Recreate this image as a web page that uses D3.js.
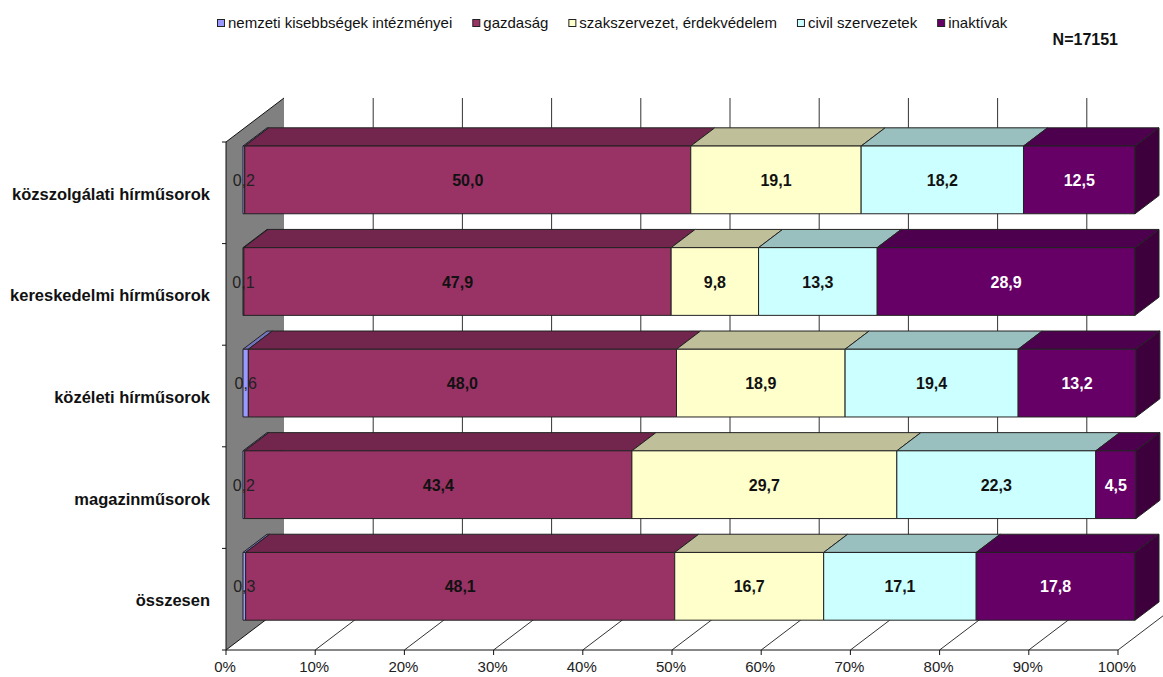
<!DOCTYPE html>
<html>
<head>
<meta charset="utf-8">
<script src="https://cdn.jsdelivr.net/npm/d3@7"></script>
<style>
body { margin: 0; background: #fff; }
svg { display: block; font-family: "Liberation Sans", Arial, sans-serif; }
</style>
</head>
<body>
<svg></svg>
<script>
const [WIDTH, HEIGHT] = [1163, 677]

// data
const categories = ['közszolgálati hírműsorok', 'kereskedelmi hírműsorok', 'közéleti hírműsorok', 'magazinműsorok', 'összesen']
const seriesNames = ['nemzeti kisebbségek intézményei', 'gazdaság', 'szakszervezet, érdekvédelem', 'civil szervezetek', 'inaktívak']
const nemzeti = [0.2, 0.1, 0.6, 0.2, 0.3]
const gazdasag = [50.0, 47.9, 48.0, 43.4, 48.1]
const szakszervezet = [19.1, 9.8, 18.9, 29.7, 16.7]
const civil = [18.2, 13.3, 19.4, 22.3, 17.1]
const inaktiv = [12.5, 28.9, 13.2, 4.5, 17.8]
const xTicks = [0, 10, 20, 30, 40, 50, 60, 70, 80, 90, 100]
const sampleSize = 'N=17151'

const series = [nemzeti, gazdasag, szakszervezet, civil, inaktiv]
const colors = ['#9999FF', '#993366', '#FFFFCC', '#CCFFFF', '#660066']
const labelColors = ['#222', '#111', '#111', '#111', '#fff']

// 3d look: depth vector of the whole plot and where the bars sit in it
const DEPTH = [58, -44]
const BAR_FRONT = 0.293
const BAR_BACK = 0.707

const state = {}

function shade(c, k) {
    const col = d3.rgb(c)
    return d3.rgb(col.r * k, col.g * k, col.b * k).formatHex()
}

function poly(pts) {
    return 'M' + pts.map(p => p[0] + ',' + p[1]).join('L') + 'Z'
}

function fmt(v) {
    return v.toFixed(1).replace('.', ',')
}

function setupSvg() {
    state.svg = d3.select('svg')
        .attr('viewBox', '0 0 ' + WIDTH + ' ' + HEIGHT)
        .attr('width', WIDTH)
        .attr('height', HEIGHT)
}

function drawLegend() {
    const g = state.svg.append('g').attr('class', 'legend')
    let xPos = 217
    seriesNames.forEach((name, i) => {
        g.append('rect')
            .attr('x', xPos + 0.5).attr('y', 19.5)
            .attr('width', 7).attr('height', 7)
            .attr('fill', colors[i])
            .attr('stroke', '#222')
        const t = g.append('text')
            .attr('x', xPos + 11).attr('y', 28)
            .attr('font-size', 15)
            .attr('fill', '#111')
            .text(name)
        xPos += 11 + t.node().getComputedTextLength() + 20
    })

    state.svg.append('text')
        .attr('x', 1118).attr('y', 45)
        .attr('text-anchor', 'end')
        .attr('font-size', 16)
        .attr('font-weight', 'bold')
        .attr('fill', '#111')
        .text(sampleSize)
}

function main() {
    setupSvg()

    const x = d3.scaleLinear().domain([0, 100]).range([226, 1118])
    const y = d3.scaleBand().domain(categories).range([142, 650])
        .paddingInner(1 / 3).paddingOuter(1 / 6)
    const [top, bottom] = y.range()
    const [dx, dy] = DEPTH
    const svg = state.svg

    // side wall
    const wall = [[x(0), top], [x(0) + dx, top + dy], [x(0) + dx, bottom + dy], [x(0), bottom]]
    svg.append('path').attr('d', poly(wall)).attr('fill', '#808080')
    svg.append('path')
        .attr('d', 'M' + wall[1] + 'L' + wall[0] + 'L' + wall[3] + 'L' + wall[2])
        .attr('fill', 'none').attr('stroke', '#111').attr('stroke-width', 1)

    // back gridlines and floor lines
    const grid = svg.append('g').attr('stroke', '#333').attr('stroke-width', 1)
    grid.selectAll('line.back')
        .data(xTicks.slice(1))
        .join('line').attr('class', 'back')
        .attr('x1', d => x(d) + dx).attr('x2', d => x(d) + dx)
        .attr('y1', top + dy).attr('y2', bottom + dy)
    grid.selectAll('line.floor')
        .data(xTicks.slice(1))
        .join('line').attr('class', 'floor')
        .attr('x1', d => x(d)).attr('y1', bottom)
        .attr('x2', d => x(d) + dx).attr('y2', bottom + dy)

    // front axis
    const axis = svg.append('g').attr('stroke', '#111')
    axis.append('line').attr('x1', x(0)).attr('x2', x(100)).attr('y1', bottom).attr('y2', bottom)
    axis.selectAll('line.tick')
        .data(xTicks)
        .join('line').attr('class', 'tick')
        .attr('x1', d => x(d)).attr('x2', d => x(d))
        .attr('y1', bottom).attr('y2', bottom + 5)
    const yTicks = d3.range(categories.length + 1).map(i => top + i * y.step())
    axis.selectAll('line.ytick')
        .data(yTicks)
        .join('line').attr('class', 'ytick')
        .attr('x1', x(0) - 4).attr('x2', x(0))
        .attr('y1', d => d).attr('y2', d => d)

    svg.append('g').selectAll('text')
        .data(xTicks)
        .join('text')
        .attr('x', d => x(d) - 1).attr('y', 672)
        .attr('text-anchor', 'middle')
        .attr('font-size', 15)
        .attr('fill', '#222')
        .text(d => d + '%')

    // category labels
    svg.append('g').selectAll('text')
        .data(categories)
        .join('text')
        .attr('x', 210)
        .attr('y', d => y(d) + y.bandwidth() / 2 + 7)
        .attr('text-anchor', 'end')
        .attr('font-size', 16.5)
        .attr('font-weight', 'bold')
        .attr('fill', '#111')
        .text(d => d)

    // bars
    const fx = dx * BAR_FRONT, fy = dy * BAR_FRONT
    const bx = dx * BAR_BACK, by = dy * BAR_BACK
    const bars = svg.append('g').attr('stroke', '#222').attr('stroke-width', 1).attr('stroke-linejoin', 'round')
    const labels = []
    categories.forEach((cat, ci) => {
        const yt = y(cat), yb = yt + y.bandwidth()
        let cum = 0
        series.forEach((vals, si) => {
            const v = vals[ci]
            const x0 = x(cum), x1 = x(cum + v)
            cum += v
            bars.append('path')
                .attr('d', poly([[x0 + fx, yt + fy], [x0 + bx, yt + by], [x1 + bx, yt + by], [x1 + fx, yt + fy]]))
                .attr('fill', shade(colors[si], 0.75))
            bars.append('path')
                .attr('d', poly([[x0 + fx, yt + fy], [x1 + fx, yt + fy], [x1 + fx, yb + fy], [x0 + fx, yb + fy]]))
                .attr('fill', colors[si])
            if (si === series.length - 1) {
                bars.append('path')
                    .attr('d', poly([[x1 + fx, yt + fy], [x1 + bx, yt + by], [x1 + bx, yb + by], [x1 + fx, yb + fy]]))
                    .attr('fill', shade(colors[si], 0.6))
            }
            labels.push({ x: (x0 + x1) / 2 + fx, y: (yt + yb) / 2 + fy, v, si })
        })
    })

    svg.append('g').selectAll('text')
        .data(labels)
        .join('text')
        .attr('x', d => d.x).attr('y', d => d.y + 6)
        .attr('text-anchor', 'middle')
        .attr('font-size', 16)
        .attr('font-weight', d => d.si === 0 ? 'normal' : 'bold')
        .attr('fill', d => labelColors[d.si])
        .text(d => fmt(d.v))

    drawLegend()
}

main()
</script>
</body>
</html>
